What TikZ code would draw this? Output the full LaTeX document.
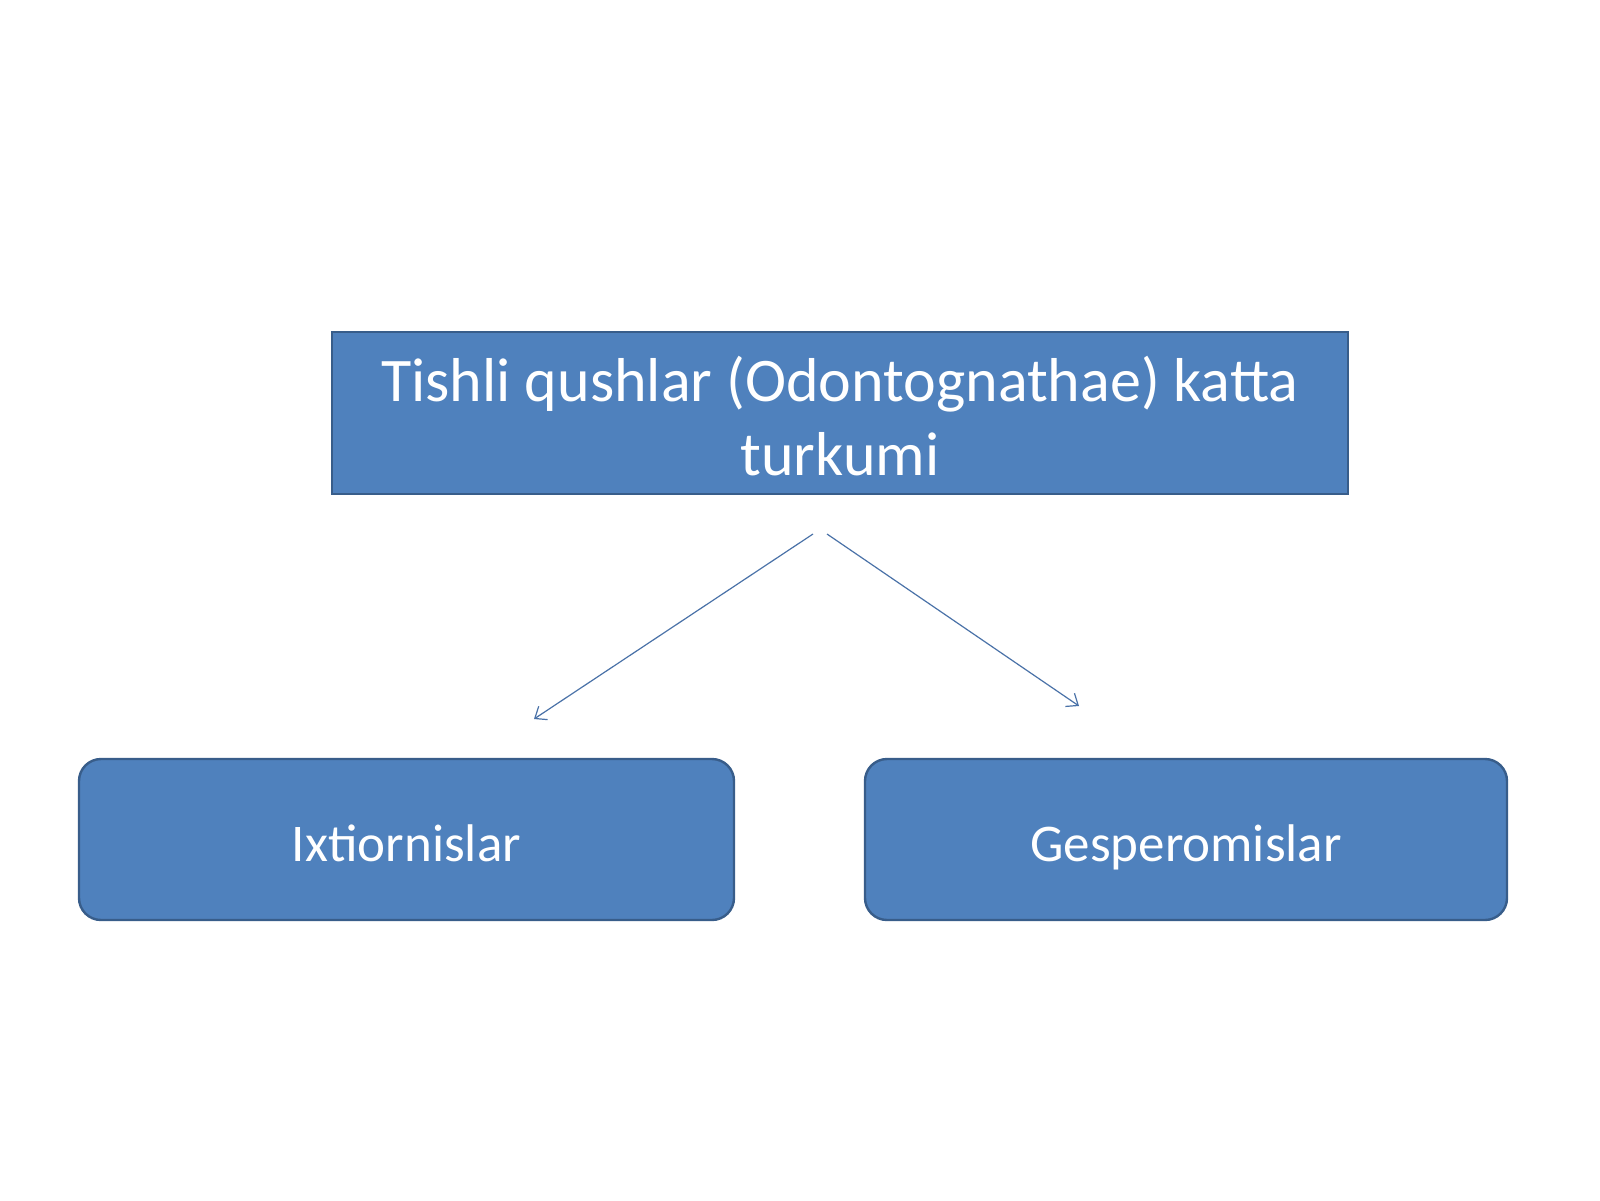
\documentclass[tikz,border=0pt]{standalone}
\usepackage{fontspec}
\setmainfont{Carlito}
\usetikzlibrary{arrows.meta}
\definecolor{boxfill}{HTML}{4F81BD}
\definecolor{boxline}{HTML}{385D8A}
\definecolor{arrowc}{HTML}{4A72A8}
\begin{document}
\begin{tikzpicture}[x=0.5pt,y=-0.5pt,
  topbox/.style={draw=boxline,line width=1.1pt,fill=boxfill,
    minimum width=508pt,minimum height=81pt,inner sep=0pt},
  toptxt/.style={text=white,align=center,inner sep=0pt,
    font=\fontsize{31}{37}\selectfont},
  subbox/.style={draw=boxline,line width=1.2pt,fill=boxfill,text=white,
    rounded corners=11pt,minimum height=80.5pt,inner sep=0pt,
    text height=22pt,text depth=0.5pt,
    font=\fontsize{26.5}{32}\selectfont},
  conn/.style={draw=arrowc,line width=0.6pt,-{Straight Barb[length=5pt,width=8pt]}}]
\useasboundingbox (0,0) rectangle (1600,1200);
\fill[white] (0,0) rectangle (1600,1200);
\node[topbox] (top) at (840,413) {};
\node[toptxt] (toptext) at ([yshift=-1.5pt]top.center) {Tishli qushlar (Odontognathae) katta\\turkumi};
\node[subbox,minimum width=327.5pt] (left) at (406.5,839.5) {Ixtiornislar};
\node[subbox,minimum width=321pt] (right) at (1186,839.5) {Gesperomislar};
\coordinate (s1) at (813,534);
\coordinate (e1) at (534,719);
\coordinate (s2) at (827,534);
\coordinate (e2) at (1079,706);
\draw[conn] (s1) -- (e1);
\draw[conn] (s2) -- (e2);
\end{tikzpicture}
\end{document}
